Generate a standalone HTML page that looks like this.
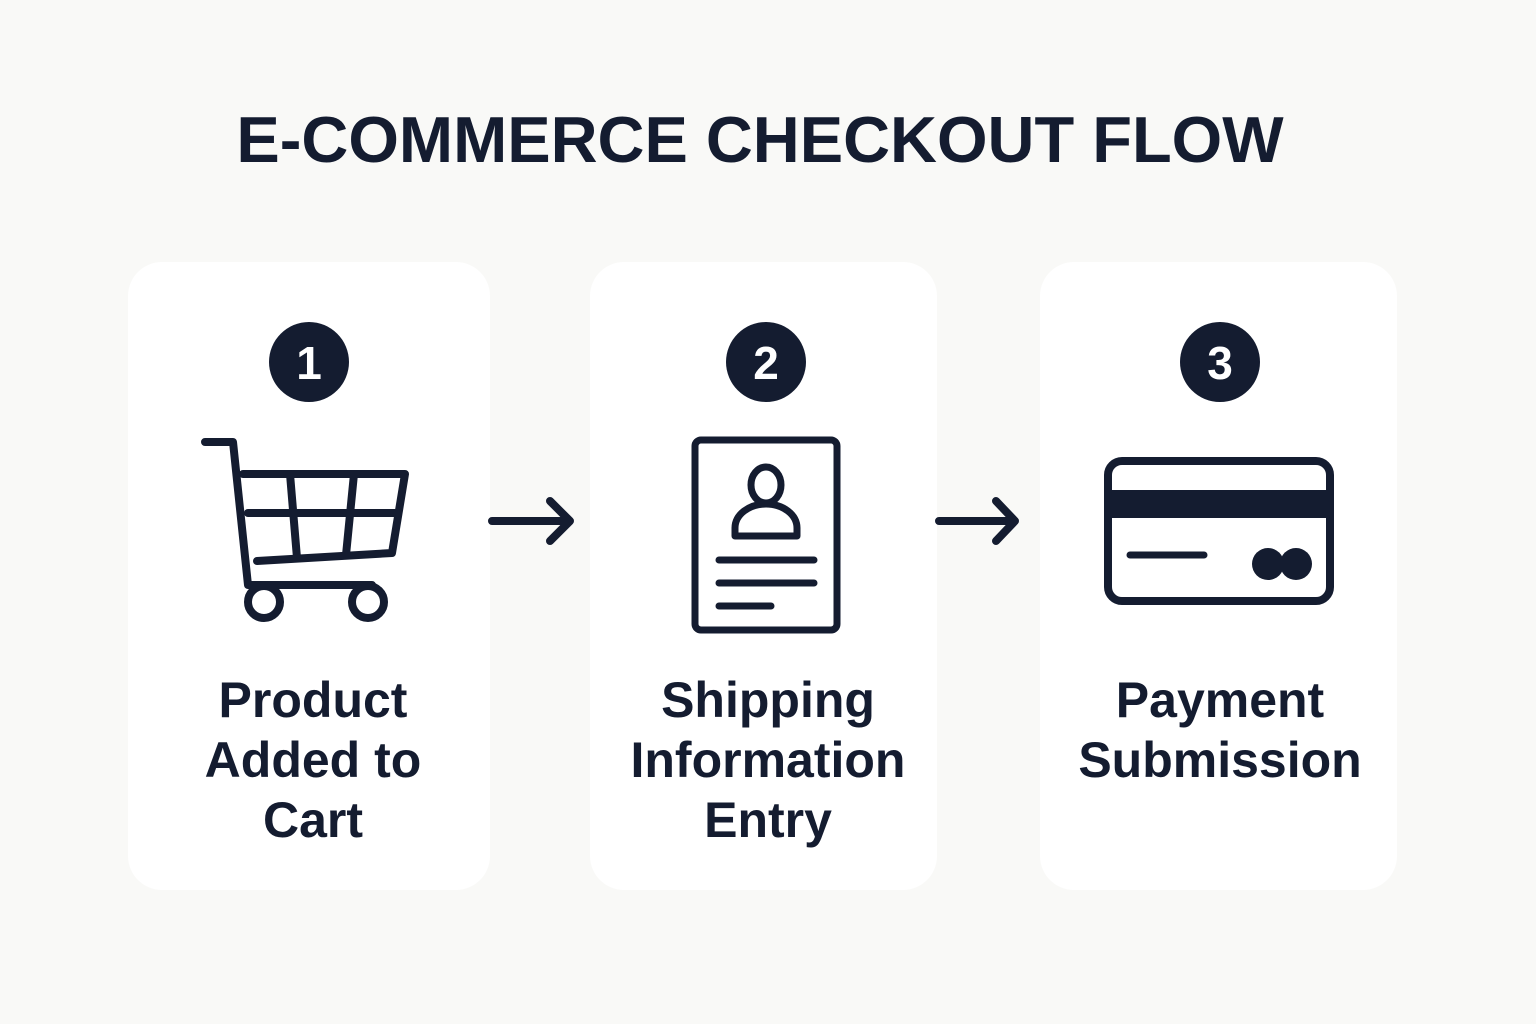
<!DOCTYPE html>
<html><head><meta charset="utf-8"><style>
html,body{margin:0;padding:0}
body{width:1536px;height:1024px;background:#f9f9f7;position:relative;overflow:hidden;font-family:"Liberation Sans",sans-serif;color:#141c30}
.card{position:absolute;top:262px;height:628px;background:#fff;border-radius:34px}
.t{position:absolute;left:0;width:1536px;top:102px;text-align:center;font-weight:bold;font-size:65px;letter-spacing:0px;padding-left:-6px}
.lab{position:absolute;top:670px;width:400px;text-align:center;font-weight:bold;font-size:50px;line-height:60px}
</style></head><body>
<div class="card" style="left:128px;width:362px"></div>
<div class="card" style="left:590px;width:347px"></div>
<div class="card" style="left:1040px;width:357px"></div>
<div class="t" style="left:-8px">E-COMMERCE CHECKOUT FLOW</div>
<svg width="1536" height="1024" style="position:absolute;left:0;top:0">
<g fill="#141c30" font-family="Liberation Sans" font-weight="bold" font-size="46" text-anchor="middle">
<circle cx="309" cy="362" r="40"/><circle cx="766" cy="362" r="40"/><circle cx="1220" cy="362" r="40"/>
<text x="309" y="379" fill="#fff">1</text><text x="766" y="379" fill="#fff">2</text><text x="1220" y="379" fill="#fff">3</text>
</g>
<g fill="none" stroke="#141c30" stroke-width="8" stroke-linecap="round" stroke-linejoin="round">
<path d="M205 442 H233 L248 585 H372"/>
<path d="M243 474 H405 L392 553 L257 561"/>
<path d="M248 513 H398"/>
<path d="M290 474 L297 558 M354 474 L346 555"/>
<circle cx="264" cy="602" r="16"/><circle cx="368" cy="602" r="16"/>
<path d="M492 521 H570 M550 501 L570 521 L550 541"/>
<path d="M939 521 H1015 M996 501 L1015 521 L996 541"/>
<rect x="695" y="440" width="142" height="190" rx="6" stroke-width="7"/>
<ellipse cx="766" cy="485" rx="15" ry="18" stroke-width="7"/>
<path d="M735 536 V528 a31 24 0 0 1 62 0 V536 Z" stroke-width="7"/>
<path d="M719 560 H814 M719 583 H814 M719 606 H771" stroke-width="7"/>
<rect x="1108" y="461" width="222" height="140" rx="14" stroke-width="8"/>
<path d="M1130 555 H1204" stroke-width="7"/>
</g>
<g fill="#141c30">
<rect x="1108" y="490" width="222" height="28"/>
<circle cx="1268" cy="564" r="16"/><circle cx="1296" cy="564" r="16"/>
</g>
</svg>
<div class="lab" style="left:113px">Product<br>Added to<br>Cart</div>
<div class="lab" style="left:568px">Shipping<br>Information<br>Entry</div>
<div class="lab" style="left:1020px">Payment<br>Submission</div>
</body></html>
